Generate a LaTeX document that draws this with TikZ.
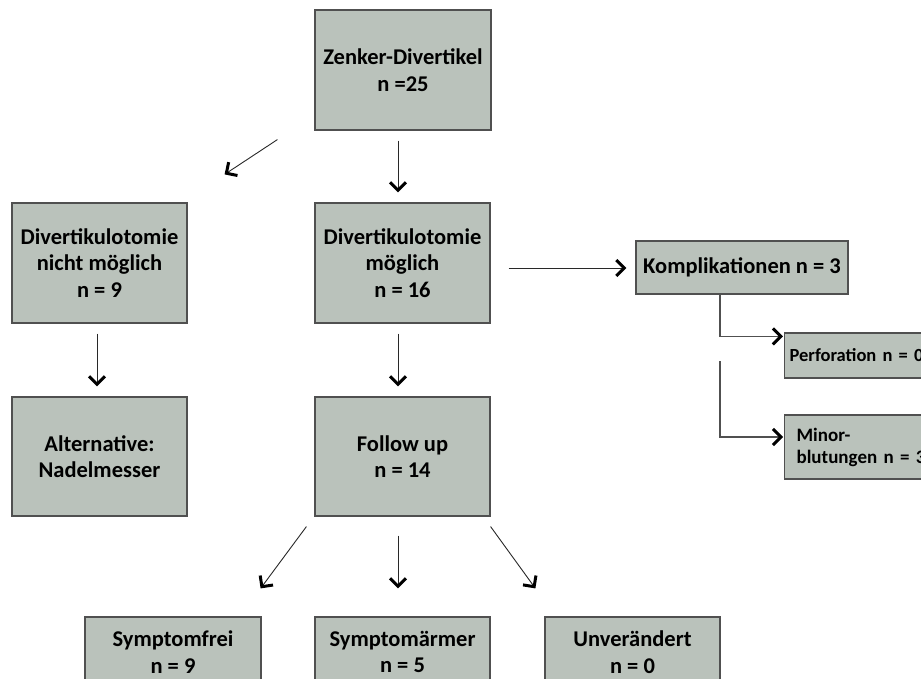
\documentclass[tikz,border=0pt]{standalone}
\usepackage{fontspec}
\setmainfont{Carlito}
\usetikzlibrary{arrows.meta,calc}
\definecolor{boxfill}{RGB}{186,194,187}
\definecolor{boxline}{RGB}{80,80,80}
\definecolor{shaft}{RGB}{40,40,40}
\tikzset{
  tip/.tip={Straight Barb[length=8pt,width=16pt,line width=3pt,color=black,line join=miter,line cap=butt]},
  box/.style={draw=boxline, line width=1.2pt, fill=boxfill, inner sep=0pt,
    align=center, font=\bfseries\fontsize{22.5}{26.5}\selectfont,
    minimum width=175pt, minimum height=120pt},
  sidebox/.style={draw=boxline, line width=1.2pt, fill=boxfill, inner sep=5pt,
    align=left, anchor=west, minimum width=180pt, text width=170pt},
  arr/.style={draw=shaft, line width=0.9pt, -tip},
  elb/.style={draw=boxline, line width=1.3pt, -tip}
}
\begin{document}
\begin{tikzpicture}[x=1pt,y=-1pt]
\useasboundingbox (0,0) rectangle (921,679);
\clip (0,0) rectangle (921,679);
\node[box, minimum width=176pt] (zenker) at (403,70) {Zenker-Divertikel\\n =25};
\node[box] (nicht) at (99.5,263) {Divertikulotomie\\nicht möglich\\n = 9};
\node[box] (moeg) at (402.5,263) {Divertikulotomie\\möglich\\n = 16};
\node[box, minimum height=119pt] (alt) at (99.5,456.5) {Alternative:\\Nadelmesser};
\node[box, minimum height=119pt] (follow) at (402.5,456.5) {Follow up\\n = 14};
\node[box, minimum width=212pt, minimum height=53pt] (kompl) at (742,267.5) {Komplikationen n = 3};
\node[sidebox, minimum height=45pt, font=\bfseries\fontsize{18.5}{22}\selectfont] (perf) at (784,355.5) {Perforation n = 0};
\node[sidebox, minimum height=64pt, inner xsep=12pt, font=\bfseries\fontsize{19}{22}\selectfont] (minor) at (784,447) {Minor-\\blutungen n = 3};
\node[box, minimum width=176pt, minimum height=70pt] (frei) at (173,652) {Symptomfrei\\n = 9};
\node[box, minimum height=70pt] (arm) at (402.5,652) {Symptomärmer\\n = 5};
\node[box, minimum height=70pt] (unv) at (632.5,652) {Unverändert\\n = 0};
\coordinate (m0) at (720,361);

\draw[arr] ([shift={(-37pt,-9pt)}]zenker.south west) -- ([shift={(37pt,28pt)}]nicht.north east);
\draw[arr] ([shift={(-5pt,-10pt)}]zenker.south) -- ([shift={(-4.5pt,10pt)}]moeg.north);
\draw[arr] ([shift={(-2.5pt,-10pt)}]nicht.south) -- ([shift={(-2.5pt,10pt)}]alt.north);
\draw[arr] ([shift={(-4.5pt,-10pt)}]moeg.south) -- ([shift={(-4.5pt,10pt)}]follow.north);
\draw[arr] ([shift={(18pt,-5pt)}]moeg.east) -- ([shift={(-9pt,-0.5pt)}]kompl.west);
\draw[elb] ([shift={(-22pt,0pt)}]kompl.south) |- ([shift={(-1pt,-4pt)}]perf.north west);
\draw[elb] (m0) |- ([shift={(-1pt,10pt)}]minor.west);
\draw[arr] ([shift={(-8pt,-10pt)}]follow.south west) -- ([shift={(-1pt,28pt)}]frei.north east);
\draw[arr] ([shift={(-4.5pt,-19pt)}]follow.south) -- ([shift={(-4.5pt,28pt)}]arm.north);
\draw[arr] ([shift={(0pt,-10pt)}]follow.south east) -- ([shift={(-9pt,28pt)}]unv.north west);
\end{tikzpicture}
\end{document}
